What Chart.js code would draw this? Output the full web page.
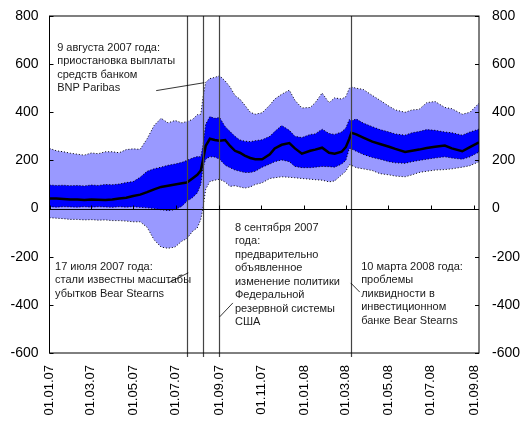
<!DOCTYPE html>
<html>
<head>
<meta charset="utf-8">
<script src="https://cdn.jsdelivr.net/npm/chart.js@4/dist/chart.umd.min.js"></script>
<style>
  html, body { margin: 0; padding: 0; background: #fff; }
  #wrap { width: 524px; height: 423px; }
</style>
</head>
<body>
<div id="wrap"><canvas id="chart" width="524" height="423"></canvas></div>
<script>
// дни от 01.01.07
const days = [0, 10, 20, 30, 40, 50, 60, 70, 80, 90, 100, 110, 120, 130, 140, 150, 160, 170, 180, 190,
  197, 205, 212, 217, 220, 224, 230, 237, 244, 252, 259, 266, 273, 280, 288, 295, 305, 316, 323, 333,
  344, 352, 362, 374, 381, 391, 401, 409, 419, 425, 430, 433, 440, 450, 463, 474, 487, 496, 510, 520,
  530, 541, 553, 567, 577, 592, 603, 616];

const outerHigh = [250, 240, 236, 230, 226, 222, 231, 228, 236, 236, 232, 245, 248, 246, 290, 345, 375, 356, 366, 356,
  362, 370, 390, 392, 460, 525, 540, 545, 552, 530, 505, 470, 455, 430, 400, 392, 398, 430, 455, 475,
  492, 450, 418, 420, 440, 480, 440, 460, 455, 465, 500, 505, 500, 495, 470, 450, 425, 410, 400, 410,
  412, 440, 445, 420, 415, 392, 400, 438];

const innerHigh = [98, 96, 97, 95, 96, 94, 98, 96, 100, 99, 102, 108, 112, 130, 155, 165, 172, 180, 185, 192,
  200, 210, 216, 215, 260, 350, 382, 375, 378, 340, 320, 300, 285, 280, 278, 282, 286, 300, 320, 345,
  325, 300, 295, 308, 310, 330, 312, 308, 318, 335, 370, 365, 372, 355, 340, 328, 318, 310, 305, 315,
  320, 328, 325, 318, 315, 305, 318, 330];

const median = [42, 42, 40, 38, 38, 36, 38, 37, 36, 38, 42, 45, 52, 58, 68, 80, 90, 95, 100, 105,
  108, 125, 140, 158, 200, 260, 290, 285, 282, 285, 260, 240, 232, 220, 210, 205, 205, 225, 250, 265,
  272, 250, 228, 240, 245, 253, 232, 228, 236, 255, 290, 315, 308, 295, 278, 268, 257, 248, 235, 240,
  245, 252, 257, 262, 250, 238, 255, 275];

const innerLow = [8, 6, 8, 7, 6, 8, 6, 8, 7, 5, 8, 6, 8, 5, 3, 0, -5, -8, -5, 10,
  30, 45, 65, 100, 170, 205, 215, 214, 205, 180, 170, 160, 155, 150, 150, 155, 172, 185, 195, 202,
  195, 175, 170, 170, 172, 175, 174, 172, 185, 200, 250, 248, 238, 225, 212, 205, 195, 190, 188, 195,
  200, 205, 210, 215, 210, 205, 215, 235];

const outerLow = [-38, -40, -42, -45, -45, -47, -46, -48, -47, -50, -50, -52, -55, -55, -78, -130, -160, -165, -160, -135,
  -125, -95, -80, -45, 0, 80, 112, 118, 122, 110, 92, 95, 90, 85, 90, 100, 107, 125, 128, 132,
  130, 128, 125, 122, 120, 118, 111, 115, 140, 155, 182, 180, 170, 165, 158, 145, 140, 135, 132, 140,
  150, 155, 160, 162, 165, 172, 178, 195];

const tickDays = [0, 59, 120, 181, 243, 304, 365, 425, 486, 547, 609];
const tickLabels = ["01.01.07", "01.03.07", "01.05.07", "01.07.07", "01.09.07", "01.11.07",
  "01.01.08", "01.03.08", "01.05.08", "01.07.08", "01.09.08"];

const eventDays = [197, 220, 243, 433];

// подписи событий (координаты в днях и значениях)
const notes = [
  { day: 11, value: 669, lines: ["9 августа 2007 года:", "приостановка выплаты", "средств банком", "BNP Paribas"],
    leader: [[153, 490], [222, 523]] },
  { day: 8, value: -242, lines: ["17 июля 2007 года:", "стали известны масштабы", "убытков Bear Stearns"],
    leader: [[170, -309], [199, -267]] },
  { day: 266, value: -80, lines: ["8 сентября 2007", "года:", "предварительно", "объявленное", "изменение политики", "Федеральной", "резервной системы", "США"],
    leader: [[244, -450], [263, -392]] },
  { day: 447, value: -242, lines: ["10 марта 2008 года:", "проблемы", "ликвидности в", "инвестиционном", "банке Bear Stearns"],
    leader: [[432, -309], [445, -347]] }
];

const FONT = "'Liberation Sans', Arial, sans-serif";
const LIGHT = "#9999ff";
const DARK = "#0000ff";

const pts = arr => arr.map((v, i) => ({ x: days[i], y: v }));

const edge = (data, fill, color) => ({
  data: pts(data),
  borderColor: "#000",
  borderWidth: 1,
  borderDash: [1, 2],
  pointRadius: 0,
  fill: fill,
  backgroundColor: color
});

// рамка, засечки, вертикальные линии и подписи
const decor = {
  id: "decor",
  afterDatasetsDraw(chart) {
    const { ctx, chartArea: a, scales: { x, y } } = chart;
    ctx.save();

    // вертикальные линии событий
    ctx.strokeStyle = "#444";
    ctx.lineWidth = 1.2;
    eventDays.forEach(d => {
      const px = Math.round(x.getPixelForValue(d)) + 0.5;
      ctx.beginPath();
      ctx.moveTo(px, a.top);
      ctx.lineTo(px, a.bottom + 4);
      ctx.stroke();
    });

    // рамка
    ctx.strokeStyle = "#000";
    ctx.lineWidth = 1;
    ctx.strokeRect(a.left, a.top, a.right - a.left, a.bottom - a.top);

    // ноль
    const y0 = Math.round(y.getPixelForValue(0)) + 0.5;
    ctx.beginPath();
    ctx.moveTo(a.left, y0);
    ctx.lineTo(a.right, y0);
    ctx.stroke();

    // засечки оси X на нуле
    tickDays.forEach(d => {
      const px = Math.round(x.getPixelForValue(d)) + 0.5;
      ctx.beginPath();
      ctx.moveTo(px, y0);
      ctx.lineTo(px, y0 - 4);
      ctx.stroke();
    });

    // засечки осей Y внутрь
    y.ticks.forEach(t => {
      const py = Math.round(y.getPixelForValue(t.value)) + 0.5;
      ctx.beginPath();
      ctx.moveTo(a.left, py);
      ctx.lineTo(a.left + 4, py);
      ctx.moveTo(a.right, py);
      ctx.lineTo(a.right - 4, py);
      ctx.stroke();
    });

    // подписи
    ctx.fillStyle = "#1a1a1a";
    ctx.font = "11px " + FONT;
    ctx.textBaseline = "middle";
    ctx.textAlign = "left";
    notes.forEach(n => {
      const tx = x.getPixelForValue(n.day);
      const ty = y.getPixelForValue(n.value);
      n.lines.forEach((s, i) => ctx.fillText(s, tx, ty + i * 13.5));
      ctx.beginPath();
      ctx.moveTo(x.getPixelForValue(n.leader[0][0]), y.getPixelForValue(n.leader[0][1]));
      ctx.lineTo(x.getPixelForValue(n.leader[1][0]), y.getPixelForValue(n.leader[1][1]));
      ctx.strokeStyle = "#000";
      ctx.lineWidth = 0.8;
      ctx.stroke();
    });

    ctx.restore();
  }
};

// tickLength (8) всё равно учитывается в отступе подписей
const yAxis = (pos, width, pad) => ({
  position: pos,
  min: -600,
  max: 800,
  grid: { display: false },
  border: { display: false },
  ticks: { stepSize: 200, padding: pad, color: "#000", font: { family: FONT, size: 14 } },
  afterFit: s => { s.width = width; }
});

new Chart(document.getElementById("chart"), {
  type: "line",
  data: {
    datasets: [
      { data: pts(median), borderColor: "#000", borderWidth: 2.5, pointRadius: 0, fill: false },
      edge(innerHigh, 2, DARK),
      edge(innerLow, false, DARK),
      edge(outerHigh, 4, LIGHT),
      edge(outerLow, false, LIGHT)
    ]
  },
  options: {
    responsive: false,
    animation: false,
    layout: { padding: { top: 16, left: 0, right: 0, bottom: 0 } },
    plugins: {
      legend: { display: false },
      tooltip: { enabled: false },
      filler: { drawTime: "beforeDatasetsDraw" }
    },
    scales: {
      x: {
        type: "linear",
        min: 0,
        max: 616,
        grid: { display: false },
        border: { display: false },
        afterBuildTicks: s => { s.ticks = tickDays.map(v => ({ value: v })); },
        afterFit: s => { s.height = 70; },
        ticks: {
          autoSkip: false,
          minRotation: 90,
          maxRotation: 90,
          padding: 4,
          color: "#000",
          font: { family: FONT, size: 13 },
          callback: (v, i) => tickLabels[i]
        }
      },
      y: yAxis("left", 49.5, 3),
      y2: yAxis("right", 45, 5)
    }
  },
  plugins: [decor]
});
</script>
</body>
</html>
